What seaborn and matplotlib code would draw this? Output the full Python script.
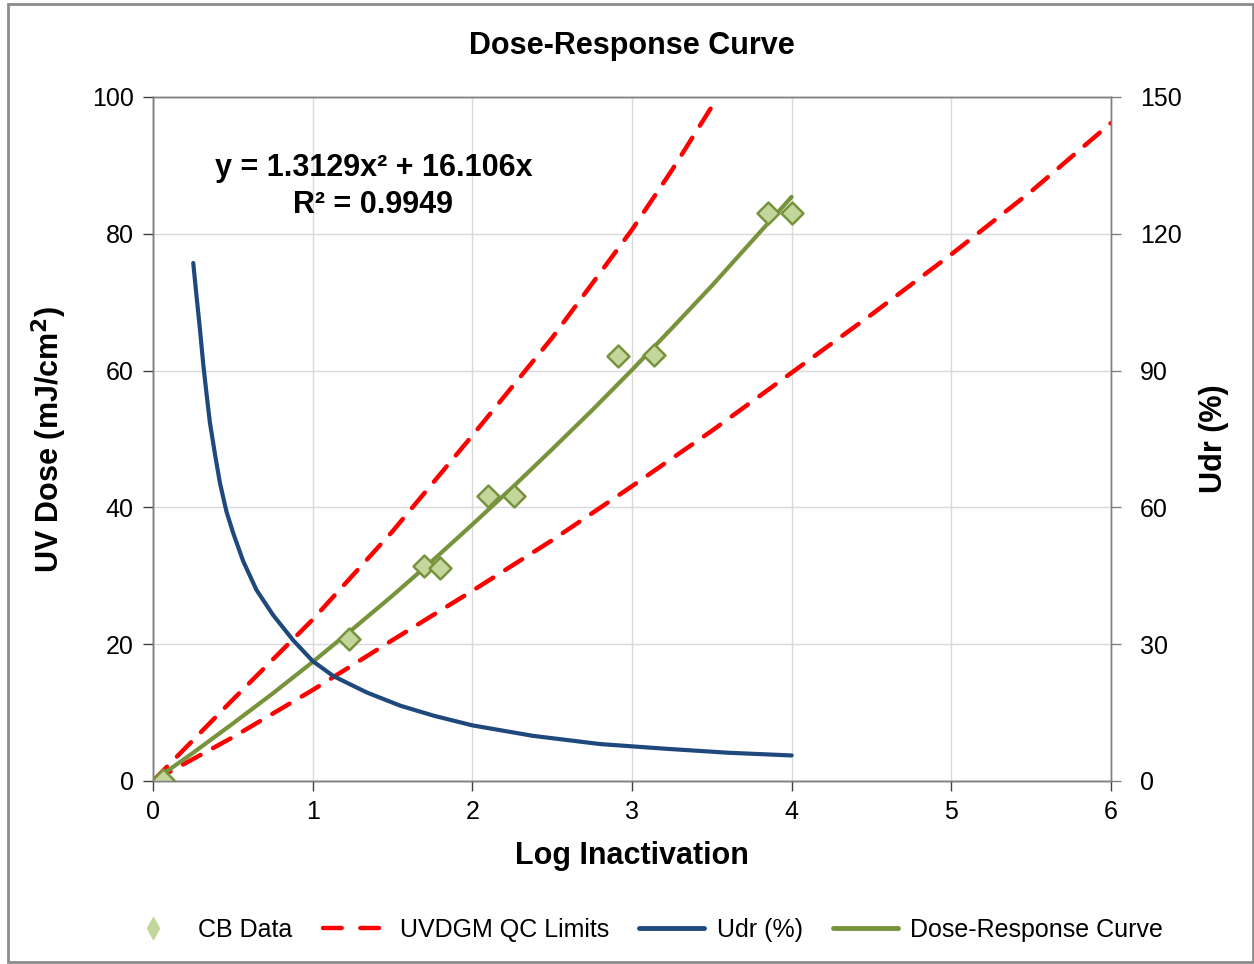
import numpy as np
import pandas as pd
import matplotlib
matplotlib.use("Agg")
import matplotlib.pyplot as plt
from matplotlib.lines import Line2D
from matplotlib.patches import Rectangle
import seaborn as sns

# ---- data ----
cb_x = [0.06, 1.23, 1.70, 1.80, 2.10, 2.26, 2.91, 3.14, 3.85, 4.00]
cb_y = [0.2, 20.7, 31.4, 31.2, 41.7, 41.7, 62.2, 62.3, 83.0, 83.0]

fit_x = [0.0, 0.25, 0.5, 0.75, 1.0, 1.25, 1.5, 1.75, 2.0, 2.25, 2.5, 2.75,
         3.0, 3.25, 3.5, 3.75, 4.0]
fit_y = [0.0, 4.1, 8.4, 12.8, 17.4, 22.2, 27.1, 32.2, 37.5, 42.9, 48.5, 54.2,
         60.1, 66.2, 72.4, 78.9, 85.4]

qc_upper_x = [0.0, 0.5, 1.0, 1.5, 2.0, 2.5, 3.0, 3.25, 3.5]
qc_upper_y = [0.0, 11.9, 23.6, 36.5, 50.5, 64.8, 80.6, 89.3, 98.6]

qc_lower_x = [0.0, 0.5, 1.0, 1.5, 2.0, 2.5, 3.0, 3.5, 4.0, 4.5, 5.0, 5.5, 6.0]
qc_lower_y = [0.0, 6.4, 13.3, 20.6, 27.8, 35.2, 43.1, 51.2, 59.7, 68.2, 77.0, 86.2, 96.2]

udr_x = [0.252, 0.273, 0.294, 0.315, 0.335, 0.356, 0.388, 0.419, 0.46, 0.502,
         0.565, 0.648, 0.752, 0.877, 1.00, 1.13, 1.34, 1.55, 1.76, 2.00,
         2.38, 2.80, 3.20, 3.60, 4.00]
udr_y = [113.6, 106.2, 99.1, 91.3, 85.0, 78.7, 71.7, 65.4, 59.1, 54.4,
         48.2, 41.9, 36.4, 30.9, 26.3, 23.0, 19.4, 16.5, 14.3, 12.2,
         9.9, 8.1, 7.1, 6.2, 5.6]

x_ticks = [0, 1, 2, 3, 4, 5, 6]
y_ticks = [0, 20, 40, 60, 80, 100]
y2_ticks = [0, 30, 60, 90, 120, 150]

title = "Dose-Response Curve"
eq_line1 = "y = 1.3129x² + 16.106x"
eq_line2 = "R² = 0.9949"

# ---- styling ----
sns.set_theme(style="white")
plt.rcParams["font.family"] = ["Liberation Sans", "DejaVu Sans"]
plt.rcParams["text.color"] = "black"
plt.rcParams["axes.labelcolor"] = "black"
plt.rcParams["xtick.color"] = "black"
plt.rcParams["ytick.color"] = "black"

C_RED = "#FF0000"
C_GREEN = "#77933C"
C_GREEN_FILL = "#C3D69B"
C_NAVY = "#1F497D"

fig = plt.figure(figsize=(12.54, 9.64), dpi=100)
ax = fig.add_axes([153/1254, 1 - 781/964, (1111-153)/1254, (781-97)/964])
ax2 = ax.twinx()

df_upper = pd.DataFrame({"x": qc_upper_x, "y": qc_upper_y})
df_lower = pd.DataFrame({"x": qc_lower_x, "y": qc_lower_y})
df_fit = pd.DataFrame({"x": fit_x, "y": fit_y})
df_cb = pd.DataFrame({"x": cb_x, "y": cb_y})
df_udr = pd.DataFrame({"x": udr_x, "y": udr_y})

dash = (4.5, 3.2)
for d in (df_upper, df_lower):
    sns.lineplot(data=d, x="x", y="y", ax=ax, color=C_RED, lw=3.2,
                 sort=False, estimator=None)
for ln in ax.get_lines():
    ln.set_dashes(dash)
    ln.set_dash_capstyle("round")

sns.lineplot(data=df_fit, x="x", y="y", ax=ax, color=C_GREEN, lw=3.0,
             sort=False, estimator=None)
sns.scatterplot(data=df_cb, x="x", y="y", ax=ax, marker="D", s=125,
                color=C_GREEN_FILL, edgecolor=C_GREEN, linewidth=1.8, zorder=5)

sns.lineplot(data=df_udr, x="x", y="y", ax=ax2, color=C_NAVY, lw=3.0,
             sort=False, estimator=None)
for ln in ax2.get_lines():
    ln.set_solid_joinstyle("round")
for ln in ax.get_lines():
    ln.set_solid_joinstyle("round")

# axes limits and ticks
ax.set_xlim(0, 6)
ax.set_ylim(0, 100)
ax2.set_ylim(0, 150)
ax.set_xticks(x_ticks)
ax.set_yticks(y_ticks)
ax2.set_yticks(y2_ticks)
ax.set_xticklabels([str(t) for t in x_ticks], fontsize=18)
ax.set_yticklabels([str(t) for t in y_ticks], fontsize=18)
ax2.set_yticklabels([str(t) for t in y2_ticks], fontsize=18)

ax.grid(True, color="#D9D9D9", lw=1.0)
ax.set_axisbelow(True)
ax2.grid(False)

for a in (ax, ax2):
    for sp in a.spines.values():
        sp.set_color("#808080")
        sp.set_linewidth(1.0)
ax.spines["left"].set_color("#404040")
ax.spines["bottom"].set_color("#404040")
ax.spines["top"].set_color("#595959")

ax.tick_params(axis="both", which="both", direction="out", length=7, width=1,
               color="#404040", pad=7, left=True, bottom=True)
ax2.tick_params(axis="y", direction="out", length=7, width=1,
                color="#808080", pad=14, right=True)

ax.set_xlabel("Log Inactivation", fontsize=22, fontweight="bold", labelpad=12)
ax.set_ylabel("UV Dose (mJ/cm$^{\\mathbf{2}}$)", fontsize=22, fontweight="bold", labelpad=16)
ax2.set_ylabel("Udr (%)", fontsize=22, fontweight="bold", labelpad=12)

fig.text(632/1254, 1 - 46/964, title, ha="center", va="center",
         fontsize=22, fontweight="bold")

ax.text(1.38, 89.6, eq_line1, ha="center", va="center", fontsize=22, fontweight="bold")
ax.text(1.38, 84.2, eq_line2, ha="center", va="center", fontsize=22, fontweight="bold")

# legend
handles = [
    Line2D([], [], ls="none", marker="d", markersize=11, markerfacecolor=C_GREEN_FILL,
           markeredgecolor=C_GREEN_FILL),
    Line2D([], [], color=C_RED, lw=3.2, dashes=(4.2, 4.2), dash_capstyle="round"),
    Line2D([], [], color=C_NAVY, lw=3.5),
    Line2D([], [], color=C_GREEN, lw=3.5),
]
labels = ["CB Data", "UVDGM QC Limits", "Udr (%)", "Dose-Response Curve"]
fig.legend(handles, labels, loc="center", bbox_to_anchor=(642/1254, 1 - 930/964),
           ncol=4, frameon=False, fontsize=18, handlelength=2.6,
           columnspacing=1.2, handletextpad=0.5)

# figure border
fig.patches.append(Rectangle((8/1254, 2/964), 1 - 8/1254 - 1/1254, 1 - 6/964,
                             transform=fig.transFigure, fill=False,
                             edgecolor="#8C8C8C", lw=2))

fig.savefig("out.png", dpi=100)
